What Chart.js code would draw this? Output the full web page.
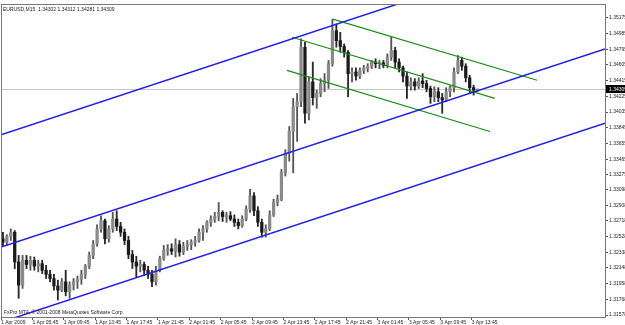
<!DOCTYPE html>
<html>
<head>
<meta charset="utf-8">
<script src="https://cdn.jsdelivr.net/npm/chart.js@4.4.1/dist/chart.umd.min.js"></script>
<style>
  html, body { margin: 0; padding: 0; background: #fff; }
  #wrap { width: 625px; height: 325px; }
</style>
</head>
<body>
<div id="wrap"><canvas id="chart"></canvas></div>
<script>
const symbol = "EURUSD,M15";
const copyright = "FxPro MT4, \u00a9 2001-2008 MetaQuotes Software Corp.";

const timeLabels = ["1 Apr 2009", "1 Apr 05:45", "1 Apr 09:45", "1 Apr 13:45", "1 Apr 17:45", "1 Apr 21:45",
  "2 Apr 01:45", "2 Apr 05:45", "2 Apr 09:45", "2 Apr 13:45", "2 Apr 17:45", "2 Apr 21:45",
  "3 Apr 01:45", "3 Apr 05:45", "3 Apr 09:45", "3 Apr 13:45"];

const priceTicks = [1.35175, 1.34985, 1.34795, 1.34605, 1.34415, 1.34225, 1.34035, 1.33845, 1.33655, 1.33465,
  1.33275, 1.33098, 1.32908, 1.32718, 1.32528, 1.32338, 1.32148, 1.31958, 1.31768, 1.31578];

// candles, one per 30 minutes
const opens = [1.3250, 1.3246, 1.3253, 1.3258, 1.3222, 1.3194, 1.3224, 1.3219, 1.3224, 1.3217,
  1.3220, 1.3212, 1.3207, 1.3202, 1.3193, 1.3188, 1.3198, 1.3186, 1.3194, 1.3198,
  1.3201, 1.3207, 1.3217, 1.3230, 1.3244, 1.3262, 1.3272, 1.3250, 1.3262, 1.3274,
  1.3265, 1.3258, 1.3248, 1.3231, 1.3222, 1.3217, 1.3219, 1.3212, 1.3207, 1.3198,
  1.3212, 1.3226, 1.3236, 1.3238, 1.3235, 1.3243, 1.3234, 1.3241, 1.3243, 1.3246,
  1.3248, 1.3258, 1.3262, 1.3270, 1.3274, 1.3277, 1.3282, 1.3277, 1.3278, 1.3274,
  1.3270, 1.3266, 1.3274, 1.3286, 1.3302, 1.3284, 1.3270, 1.3258, 1.3262, 1.3279,
  1.3294, 1.3298, 1.3330, 1.3354, 1.3380, 1.3410, 1.3416, 1.3482, 1.3402, 1.3440,
  1.3421, 1.3426, 1.3438, 1.3442, 1.3462, 1.3502, 1.3490, 1.3483, 1.3476, 1.3450,
  1.3452, 1.3447, 1.3454, 1.3457, 1.3459, 1.3464, 1.3462, 1.3463, 1.3460, 1.3470,
  1.3478, 1.3464, 1.3457, 1.3447, 1.3435, 1.3440, 1.3435, 1.3441, 1.3438, 1.3432,
  1.3422, 1.3428, 1.3421, 1.3418, 1.3428, 1.3433, 1.3452, 1.3466, 1.3459, 1.3445,
  1.3433, 1.34302];
const highs = [1.3258, 1.3255, 1.3262, 1.3260, 1.3230, 1.3230, 1.3230, 1.3229, 1.3228, 1.3224,
  1.3224, 1.3218, 1.3212, 1.3207, 1.3200, 1.3202, 1.3212, 1.3198, 1.3202, 1.3205,
  1.3212, 1.3219, 1.3234, 1.3248, 1.3267, 1.3278, 1.3274, 1.3266, 1.3282, 1.3284,
  1.3270, 1.3262, 1.3253, 1.3236, 1.3229, 1.3224, 1.3222, 1.3217, 1.3212, 1.3217,
  1.3229, 1.3242, 1.3243, 1.3244, 1.3250, 1.3248, 1.3246, 1.3248, 1.3249, 1.3253,
  1.3262, 1.3266, 1.3272, 1.3278, 1.3282, 1.3294, 1.3284, 1.3282, 1.3283, 1.3279,
  1.3274, 1.3278, 1.3290, 1.3310, 1.3306, 1.3289, 1.3274, 1.3267, 1.3284, 1.3298,
  1.3303, 1.3334, 1.3358, 1.3386, 1.3420, 1.3426, 1.3492, 1.3488, 1.3446, 1.3464,
  1.3430, 1.3444, 1.3450, 1.3466, 1.3516, 1.3510, 1.3500, 1.3486, 1.3478, 1.3457,
  1.3457, 1.3457, 1.3460, 1.3462, 1.3466, 1.3468, 1.3466, 1.3466, 1.3474, 1.3494,
  1.3482, 1.3468, 1.3459, 1.3452, 1.3445, 1.3444, 1.3445, 1.3450, 1.3442, 1.3435,
  1.3434, 1.3433, 1.3426, 1.3433, 1.3435, 1.3457, 1.3472, 1.3470, 1.3462, 1.3448,
  1.3436, 1.34312];
const lows = [1.3241, 1.3242, 1.3248, 1.3214, 1.3178, 1.3190, 1.3214, 1.3212, 1.3212, 1.3210,
  1.3208, 1.3202, 1.3198, 1.3188, 1.3176, 1.3186, 1.3181, 1.3178, 1.3188, 1.3190,
  1.3195, 1.3202, 1.3214, 1.3226, 1.3241, 1.3258, 1.3244, 1.3246, 1.3258, 1.3260,
  1.3253, 1.3243, 1.3226, 1.3214, 1.3204, 1.3210, 1.3206, 1.3202, 1.3192, 1.3194,
  1.3210, 1.3224, 1.3230, 1.3231, 1.3228, 1.3229, 1.3231, 1.3236, 1.3237, 1.3241,
  1.3246, 1.3248, 1.3258, 1.3265, 1.3270, 1.3272, 1.3271, 1.3270, 1.3272, 1.3265,
  1.3262, 1.3264, 1.3272, 1.3282, 1.3278, 1.3265, 1.3252, 1.3252, 1.3260, 1.3277,
  1.3290, 1.3296, 1.3326, 1.3344, 1.3330, 1.3368, 1.3410, 1.3390, 1.3394, 1.3412,
  1.3408, 1.3422, 1.3428, 1.3432, 1.3459, 1.3482, 1.3476, 1.3470, 1.3422, 1.3440,
  1.3442, 1.3444, 1.3450, 1.3452, 1.3456, 1.3457, 1.3456, 1.3457, 1.3457, 1.3466,
  1.3457, 1.3452, 1.3440, 1.3420, 1.3430, 1.3430, 1.3432, 1.3433, 1.3428, 1.3414,
  1.3416, 1.3416, 1.3402, 1.3416, 1.3422, 1.3428, 1.3450, 1.3454, 1.3440, 1.3426,
  1.3424, 1.34281];
const closes = [1.3246, 1.3253, 1.3258, 1.3222, 1.3194, 1.3224, 1.3219, 1.3224, 1.3217, 1.3220,
  1.3212, 1.3207, 1.3202, 1.3193, 1.3188, 1.3198, 1.3186, 1.3194, 1.3198, 1.3201,
  1.3207, 1.3217, 1.3230, 1.3244, 1.3262, 1.3272, 1.3250, 1.3262, 1.3274, 1.3265,
  1.3258, 1.3248, 1.3231, 1.3222, 1.3217, 1.3219, 1.3212, 1.3207, 1.3198, 1.3212,
  1.3226, 1.3236, 1.3238, 1.3235, 1.3243, 1.3234, 1.3241, 1.3243, 1.3246, 1.3248,
  1.3258, 1.3262, 1.3270, 1.3274, 1.3277, 1.3282, 1.3277, 1.3278, 1.3274, 1.3270,
  1.3266, 1.3274, 1.3286, 1.3302, 1.3284, 1.3270, 1.3258, 1.3262, 1.3279, 1.3294,
  1.3298, 1.3330, 1.3354, 1.3380, 1.3410, 1.3416, 1.3482, 1.3402, 1.3440, 1.3421,
  1.3426, 1.3438, 1.3442, 1.3462, 1.3502, 1.3490, 1.3483, 1.3476, 1.3450, 1.3452,
  1.3447, 1.3454, 1.3457, 1.3459, 1.3464, 1.3462, 1.3463, 1.3460, 1.3470, 1.3478,
  1.3464, 1.3457, 1.3447, 1.3435, 1.3440, 1.3435, 1.3441, 1.3438, 1.3432, 1.3422,
  1.3428, 1.3421, 1.3418, 1.3428, 1.3433, 1.3452, 1.3466, 1.3459, 1.3445, 1.3433,
  1.3430, 1.34309];

// trend lines: [barIndex, price] anchor pairs
const blueUpper = [[-0.5, 1.3376], [153.5, 1.3617]];
const blueMiddle = [[-0.5, 1.3240], [153.5, 1.3480]];
const blueLower = [[-0.5, 1.3149], [153.5, 1.3390]];
const greenTop = [[84.1, 1.3516], [136.2, 1.3442]];
const greenMid = [[73.7, 1.3494], [125.4, 1.3420]];
const greenLow = [[72.4, 1.3454], [124.2, 1.3380]];

const n = closes.length;
const last = n - 1;
const FONT = "Liberation Sans";
const bull = closes.map((c, i) => c >= opens[i]);

function trend(pts, color, width) {
  return {
    type: "line",
    data: pts.map(p => ({ x: p[0], y: p[1] })),
    borderColor: color,
    borderWidth: width,
    pointRadius: 0,
    clip: 0,
    order: 0
  };
}

const mtDecor = {
  id: "mtDecor",
  beforeDatasetsDraw(chart) {
    const { ctx, chartArea: a, scales } = chart;
    const y = Math.round(scales.y.getPixelForValue(closes[last])) + 0.5;
    ctx.save();
    ctx.strokeStyle = "#c8c8c8";
    ctx.lineWidth = 1;
    ctx.beginPath();
    ctx.moveTo(a.left, y);
    ctx.lineTo(a.right, y);
    ctx.stroke();
    ctx.restore();
  },
  afterDraw(chart) {
    const { ctx, chartArea: a, scales } = chart;
    ctx.save();
    // frame
    ctx.strokeStyle = "#7a7a7a";
    ctx.lineWidth = 1;
    ctx.strokeRect(a.left + 0.5, a.top + 0.5, a.right - a.left, a.bottom - a.top);
    // header and copyright
    ctx.fillStyle = "#222";
    ctx.font = "5px '" + FONT + "'";
    ctx.textBaseline = "top";
    const head = symbol + "  " + [opens[last], highs[last], lows[last], closes[last]].map(v => v.toFixed(5)).join(" ");
    ctx.fillText(head, a.left + 2, a.top + 3);
    ctx.textBaseline = "alphabetic";
    ctx.fillText(copyright, a.left + 3, a.bottom - 3);
    // bid price box
    const y = Math.round(scales.y.getPixelForValue(closes[last]));
    ctx.fillStyle = "#000";
    ctx.fillRect(a.right + 1, y - 4, chart.width - a.right - 1, 8);
    ctx.fillStyle = "#fff";
    ctx.textBaseline = "middle";
    ctx.fillText(closes[last].toFixed(5), a.right + 4, y + 0.5);
    ctx.restore();
  }
};

new Chart(document.getElementById("chart"), {
  data: {
    datasets: [
      trend(blueUpper, "#1f1fee", 1.5),
      trend(blueMiddle, "#1f1fee", 1.5),
      trend(blueLower, "#1f1fee", 1.5),
      trend(greenTop, "#1c8c1c", 1.2),
      trend(greenMid, "#1c8c1c", 1.2),
      trend(greenLow, "#1c8c1c", 1.2),
      {
        type: "bar",
        data: highs.map((h, i) => ({ x: i, y: [lows[i], h] })),
        backgroundColor: bull.map(b => b ? "#555" : "#2a2a2a"),
        barThickness: 1.2,
        grouped: false,
        order: 2
      },
      {
        type: "bar",
        data: opens.map((o, i) => ({ x: i, y: [o, closes[i]] })),
        backgroundColor: bull.map(b => b ? "#8a8a8a" : "#1a1a1a"),
        barThickness: 2.6,
        minBarLength: 1,
        grouped: false,
        order: 1
      }
    ]
  },
  options: {
    responsive: true,
    maintainAspectRatio: false,
    animation: false,
    layout: { padding: { left: 1, top: 1, right: 0, bottom: 0 } },
    plugins: { legend: { display: false }, tooltip: { enabled: false } },
    scales: {
      x: {
        type: "linear",
        offset: false,
        min: -0.5,
        max: 153.5,
        afterBuildTicks: axis => { axis.ticks = timeLabels.map((_, k) => ({ value: k * 8 - 0.5 })); },
        afterFit: axis => { axis.height = 8; },
        ticks: {
          autoSkip: false,
          maxRotation: 0,
          align: "start",
          padding: 0,
          color: "#222",
          font: { family: FONT, size: 5 },
          callback: (v, i) => timeLabels[i]
        },
        grid: { drawOnChartArea: false, offset: false, tickLength: 3, color: "#555" },
        border: { display: false }
      },
      y: {
        type: "linear",
        position: "right",
        min: 1.31554,
        max: 1.35343,
        afterBuildTicks: axis => { axis.ticks = priceTicks.map(v => ({ value: v })); },
        afterFit: axis => { axis.width = 20; },
        ticks: {
          padding: 1,
          color: "#222",
          font: { family: FONT, size: 5 },
          callback: v => v.toFixed(5)
        },
        grid: { drawOnChartArea: false, tickLength: 3, color: "#555" },
        border: { display: false }
      }
    }
  },
  plugins: [mtDecor]
});
</script>
</body>
</html>
